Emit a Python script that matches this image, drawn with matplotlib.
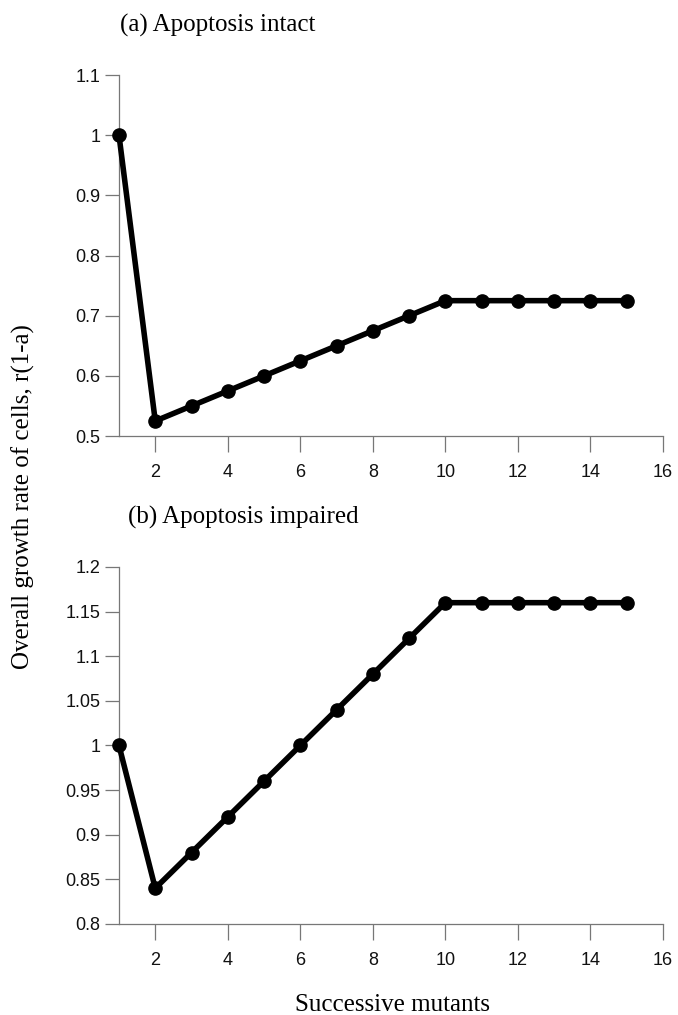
import numpy as np
import matplotlib.pyplot as plt

# data
mutants = np.arange(1, 16)
rate_intact = [1.0, 0.525, 0.55, 0.575, 0.6, 0.625, 0.65, 0.675, 0.7,
               0.725, 0.725, 0.725, 0.725, 0.725, 0.725]
rate_impaired = [1.0, 0.84, 0.88, 0.92, 0.96, 1.0, 1.04, 1.08, 1.12,
                 1.16, 1.16, 1.16, 1.16, 1.16, 1.16]

xticks = [2, 4, 6, 8, 10, 12, 14, 16]
yticks_a = [0.5, 0.6, 0.7, 0.8, 0.9, 1.0, 1.1]
ytick_labels_a = ['0.5', '0.6', '0.7', '0.8', '0.9', '1', '1.1']
yticks_b = [0.8, 0.85, 0.9, 0.95, 1.0, 1.05, 1.1, 1.15, 1.2]
ytick_labels_b = ['0.8', '0.85', '0.9', '0.95', '1', '1.05', '1.1', '1.15', '1.2']

serif = 'Liberation Serif'
sans = 'Liberation Sans'

fig = plt.figure(figsize=(6.78, 10.15), dpi=100)
ax1 = fig.add_axes([0.1755, 0.5704, 0.8024, 0.3557])
ax2 = fig.add_axes([0.1755, 0.0897, 0.8024, 0.3517])


def style(ax, yticks, ylabels, ylim):
    ax.set_xlim(1, 16)
    ax.set_ylim(*ylim)
    ax.set_xticks(xticks)
    ax.set_xticklabels([str(t) for t in xticks], family=sans, fontsize=13)
    ax.set_yticks(yticks)
    ax.set_yticklabels(ylabels, family=sans, fontsize=13)
    for s in ['top', 'right']:
        ax.spines[s].set_visible(False)
    for s in ['left', 'bottom']:
        ax.spines[s].set_color('#777777')
        ax.spines[s].set_linewidth(0.9)
    ax.tick_params(axis='x', length=11.5, width=0.9, color='#777777', pad=8.5,
                   labelcolor='#111111')
    ax.tick_params(axis='y', length=10, width=0.9, color='#777777', pad=3.5,
                   labelcolor='#111111')


ax1.plot(mutants, rate_intact, color='black', lw=4, marker='o', ms=9.5,
         clip_on=False, zorder=5)
style(ax1, yticks_a, ytick_labels_a, (0.5, 1.1))

ax2.plot(mutants, rate_impaired, color='black', lw=4, marker='o', ms=9.5,
         clip_on=False, zorder=5)
style(ax2, yticks_b, ytick_labels_b, (0.8, 1.2))

fig.text(0.177, 0.9754, '(a) Apoptosis intact', family=serif, fontsize=18,
         ha='left', va='center')
fig.text(0.189, 0.4906, '(b) Apoptosis impaired', family=serif, fontsize=18,
         ha='left', va='center')
fig.text(0.034, 0.511, 'Overall growth rate of cells, r(1-a)', family=serif,
         fontsize=18, rotation=90, ha='center', va='center')
fig.text(0.435, 0.0099, 'Successive mutants', family=serif, fontsize=18,
         ha='left', va='center')

fig.savefig('out.png', dpi=100)
